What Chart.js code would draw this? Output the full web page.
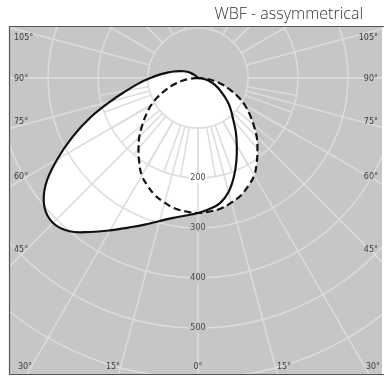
<!DOCTYPE html>
<html><head><meta charset="utf-8">
<script src="https://cdn.jsdelivr.net/npm/chart.js@4/dist/chart.umd.min.js"></script>
<style>html,body{margin:0;padding:0;background:#fff;overflow:hidden}#wrap{position:relative;width:384px;height:378px}</style>
</head><body><div id="wrap"><canvas id="c" width="384" height="378"></canvas></div>
<script>
// ---- data (gamma angle in degrees from nadir, luminous intensity) ----
const chartTitle = 'WBF - assymmetrical';
const solidAngles = [-140,-135,-130,-125,-120,-115,-110,-105,-100,-95,-90,-85,-80,-75,-70,-65,-60,-55,-50,-45,-40,-35,-30,-25,-20,-15,-10,-5,0,5,10,15,20,25,30,35,40,45,50,55,60,65,70,75,80,85,90];
const solidValues = [0,5,10,17,25,32,40,50,62,77,95,118,145,182,228,276,325,372,401,410,400,376,352,330,312,296,284,276,270,263,254,236,210,182,155,132,110,94,80,65,52,42,32,23,14,6,0];
const dashedAngles = [-90,-85,-80,-75,-70,-65,-60,-55,-50,-45,-40,-35,-30,-25,-20,-15,-10,-5,0,5,10,15,20,25,30,35,40,45,50,55,60,65,70,75,80,85,90];
const dashedValues = [0,15,32,50,68,88,108,126,145,166,185,205,225,238,250,258,265,268,270,268,265,258,250,238,225,205,185,166,145,126,108,88,68,50,32,15,0];
const ringValues = [100,200,300,400,500,600,700,800];
const ringLabelValues = [200,300,400,500];
const sideAngleTicks = [105,90,75,60,45];
const bottomAngleTicks = [30,15,0,15,30];

// ---- layout / style (not data) ----
const sideLabelY = [38,79,122,177,250];
const bottomLabelX = [25,113,198,284,373];

function toXY(angles, values){
  return angles.map((a,i)=>{const t=a*Math.PI/180;return {x:values[i]*Math.sin(t), y:-values[i]*Math.cos(t)};});
}

const polarGrid = {
  id:'polarGrid',
  beforeDraw(chart){
    const {ctx, chartArea:a} = chart;
    ctx.save();
    ctx.fillStyle = '#c6c6c6';
    ctx.fillRect(a.left, a.top, a.right-a.left, a.bottom-a.top);
    ctx.restore();
  },
  beforeDatasetsDraw(chart){
    const {ctx, chartArea:a, scales} = chart;
    const cx = scales.x.getPixelForValue(0), cy = scales.y.getPixelForValue(0);
    const k = (scales.x.getPixelForValue(100)-cx)/100;
    const ray = (g, r0, r1) => {
      const t=g*Math.PI/180;
      ctx.beginPath();
      ctx.moveTo(cx+r0*k*Math.sin(t), cy+r0*k*Math.cos(t));
      ctx.lineTo(cx+r1*k*Math.sin(t), cy+r1*k*Math.cos(t));
      ctx.stroke();
    };
    ctx.save();
    ctx.beginPath(); ctx.rect(a.left, a.top, a.right-a.left, a.bottom-a.top); ctx.clip();
    ctx.strokeStyle = '#dcdcdc'; ctx.lineWidth = 1.5;
    ringValues.forEach(r=>{ctx.beginPath(); ctx.arc(cx, cy, r*k, 0, Math.PI*2); ctx.stroke();});
    for(let g=-80; g<=80; g+=10){ ray(g, 100, 200); }
    for(let g=0; g<360; g+=15){ ray(g, 100, 900); }
    ctx.font = '8px "DejaVu Sans"';
    ctx.textAlign='center'; ctx.textBaseline='middle';
    ringLabelValues.forEach(r=>{
      const y = cy + r*k;
      const p = ctx.getImageData(Math.round(cx)+9, Math.round(y)+4, 1, 1).data;
      ctx.fillStyle = `rgb(${p[0]},${p[1]},${p[2]})`;
      ctx.fillRect(cx-9, y-5, 18, 10);
      ctx.fillStyle = '#4a4a4a';
      ctx.fillText(String(r), cx, y);
    });
    ctx.restore();
    ctx.save();
    ctx.font = '8px "DejaVu Sans"'; ctx.fillStyle = '#3c3c3c'; ctx.textBaseline='middle';
    sideAngleTicks.forEach((g,i)=>{
      ctx.textAlign='left'; ctx.fillText(g+'°', 14, sideLabelY[i]);
      ctx.textAlign='right'; ctx.fillText(g+'°', 378, sideLabelY[i]);
    });
    ctx.textAlign='center';
    bottomAngleTicks.forEach((g,i)=>{ctx.fillText(g+'°', bottomLabelX[i], 367);});
    ctx.restore();
  },
  afterDraw(chart){
    const {ctx, chartArea:a} = chart;
    ctx.save();
    ctx.strokeStyle='#555'; ctx.lineWidth=1.2;
    ctx.beginPath();
    ctx.moveTo(a.right+2, a.top+0.5); ctx.lineTo(a.left+0.5, a.top+0.5);
    ctx.lineTo(a.left+0.5, a.bottom-0.5); ctx.lineTo(a.right+2, a.bottom-0.5);
    ctx.stroke();
    ctx.font='300 16px "Open Sans", Lato, sans-serif'; ctx.fillStyle='#333';
    ctx.textAlign='right'; ctx.textBaseline='middle';
    ctx.fillText(chartTitle, 363, 14);
    ctx.restore();
  }
};

new Chart(document.getElementById('c'), {
  type:'line',
  data:{datasets:[
    {label:'C0-C180', data:toXY(solidAngles, solidValues), borderColor:'#111', borderWidth:2.2, backgroundColor:'#fff', fill:'shape', tension:0.4, pointRadius:0},
    {label:'C90-C270', data:toXY(dashedAngles, dashedValues), borderColor:'#111', borderWidth:2.2, borderDash:[7,4], backgroundColor:'#fff', fill:'shape', tension:0.4, pointRadius:0}
  ]},
  options:{
    responsive:false, animation:false, devicePixelRatio:1,
    layout:{padding:{left:9, top:26, right:2, bottom:3}},
    scales:{
      x:{type:'linear', min:-378, max:368, display:false},
      y:{type:'linear', min:-594, max:104, display:false}
    },
    plugins:{legend:{display:false}, tooltip:{enabled:false}, title:{display:false}, filler:{drawTime:'beforeDatasetsDraw'}}
  },
  plugins:[polarGrid]
});
</script></body></html>
